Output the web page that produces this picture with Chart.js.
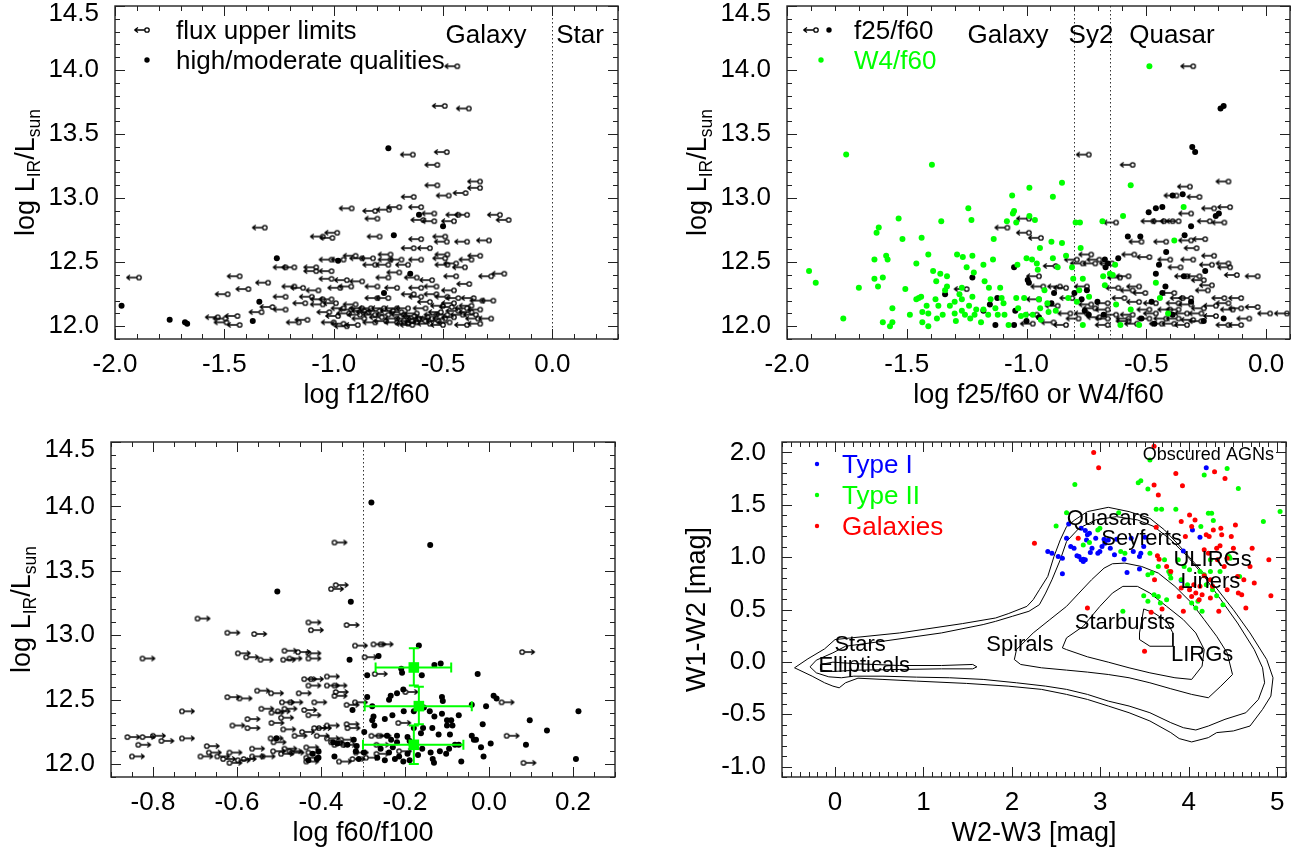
<!DOCTYPE html>
<html>
<head>
<meta charset="utf-8">
<script src="https://cdn.jsdelivr.net/npm/chart.js@4.4.1/dist/chart.umd.min.js"></script>
<style>
  html, body { margin: 0; padding: 0; background: #fff; }
  #wrap { position: relative; width: 1302px; height: 854px; }
  canvas { position: absolute; }
</style>
</head>
<body>
<div id="wrap">
  <canvas id="c1" width="651" height="427" style="left:0;top:0"></canvas>
  <canvas id="c2" width="651" height="427" style="left:651px;top:0"></canvas>
  <canvas id="c3" width="651" height="427" style="left:0;top:427px"></canvas>
  <canvas id="c4" width="651" height="427" style="left:651px;top:427px"></canvas>
</div>
<script>
// ---- panel 1: log f12/f60 vs log LIR ----
const f12Limits = [[-0.435,14.03],[-0.492,13.72],[-0.382,13.70],[-0.638,13.34],[-0.483,13.36],[-0.526,13.26],[-0.526,13.10],[-0.331,13.13],[-0.331,13.08],[-0.474,13.02],[-0.397,13.04],[-0.634,13.01],[-0.60,12.93],[-0.918,12.92],[-0.747,12.91],[-0.70,12.93],[-0.81,12.90],[-0.80,12.84],[-0.54,12.88],[-0.39,12.87],[-0.43,12.87],[-0.24,12.87],[-0.20,12.83],[-0.59,12.83],[-0.54,12.82],[-0.45,12.82],[-1.315,12.77],[-0.984,12.73],[-1.05,12.70],[-1.006,12.69],[-0.79,12.70],[-0.60,12.68],[-0.49,12.70],[-0.483,12.66],[-0.39,12.66],[-0.29,12.67],[-0.74,12.56],[-0.634,12.61],[-0.56,12.61],[-0.48,12.56],[-0.33,12.55],[-0.37,12.52],[-0.49,12.53],[-0.90,12.55],[-0.955,12.52],[-1.01,12.52],[-0.87,12.53],[-0.82,12.53],[-0.74,12.52],[-0.69,12.52],[-0.60,12.52],[-1.18,12.46],[-1.08,12.46],[-1.22,12.46],[-0.81,12.48],[-0.75,12.48],[-0.66,12.48],[-0.44,12.49],[-0.48,12.48],[-0.40,12.46],[-1.08,12.43],[-1.01,12.43],[-0.70,12.42],[-1.43,12.39],[-0.62,12.38],[-0.44,12.39],[-0.28,12.39],[-0.22,12.41],[-0.75,12.38],[-1.01,12.37],[-0.94,12.36],[-0.87,12.35],[-1.89,12.38],[-1.30,12.34],[-0.55,12.36],[-0.38,12.33],[-0.53,12.31],[-1.18,12.31],[-1.14,12.30],[-1.39,12.29],[-0.97,12.30],[-0.92,12.31],[-0.80,12.31],[-0.71,12.30],[-0.60,12.30],[-0.45,12.28],[-1.485,12.25],[-1.07,12.28],[-1.22,12.23],[-1.10,12.23],[-1.01,12.21],[-1.05,12.21],[-0.80,12.22],[-0.75,12.22],[-0.634,12.25],[-0.60,12.23],[-0.53,12.25],[-0.48,12.23],[-0.43,12.22],[-0.36,12.22],[-0.32,12.20],[-0.27,12.20],[-1.13,12.18],[-1.05,12.17],[-0.99,12.18],[-0.90,12.17],[-0.56,12.19],[-0.45,12.18],[-0.37,12.16],[-1.28,12.15],[-1.33,12.11],[-1.22,12.13],[-0.955,12.14],[-0.92,12.13],[-0.87,12.14],[-0.83,12.14],[-0.77,12.14],[-0.71,12.14],[-0.66,12.14],[-0.58,12.14],[-0.50,12.16],[-0.46,12.15],[-0.39,12.14],[-0.33,12.13],[-0.93,12.10],[-0.88,12.09],[-0.81,12.09],[-0.75,12.09],[-0.68,12.09],[-0.62,12.10],[-0.53,12.09],[-0.48,12.09],[-0.41,12.09],[-0.35,12.09],[-1.495,12.06],[-1.44,12.08],[-1.53,12.07],[-1.49,12.03],[-1.43,12.01],[-1.12,12.05],[-1.16,12.03],[-1.00,12.03],[-0.955,12.02],[-0.89,12.01],[-0.81,12.03],[-0.76,12.04],[-0.71,12.06],[-0.66,12.06],[-0.64,12.04],[-0.61,12.06],[-0.58,12.04],[-0.55,12.06],[-0.52,12.04],[-0.49,12.06],[-0.47,12.03],[-0.39,12.01],[-0.33,12.02],[-0.28,12.06],[-0.71,12.03],[-0.64,12.01],[-0.94,12.00],[-0.86,12.12],[-0.84,12.11],[-0.79,12.12],[-0.73,12.12],[-0.69,12.11],[-0.63,12.08],[-0.57,12.07],[-0.51,12.11],[-0.45,12.07],[-0.43,12.12],[-0.37,12.11],[-0.34,12.06],[-0.62,12.03],[-0.56,12.02],[-0.50,12.01],[-0.66,12.02],[-0.86,12.06],[-0.78,12.07],[-0.98,12.08],[-1.02,12.11]];
const f12Dets = [[-1.97,12.16],[-1.75,12.05],[-1.67,12.02],[-1.68,12.03],[-1.37,12.04],[-1.34,12.19],[-1.26,12.53],[-0.98,12.51],[-0.77,12.26],[-0.75,13.39],[-0.725,12.71],[-0.65,12.41],[-0.61,12.87],[-0.50,12.78]];

// ---- panel 2: log f25/f60 (black) and W4/f60 (green) ----
const f25Limits = [[-0.304,14.03],[-0.74,13.34],[-0.557,13.26],[-0.157,13.13],[-0.318,13.09],[-0.278,13.01],[-0.374,13.02],[-0.15,12.93],[-0.217,12.92],[-0.313,12.88],[-0.235,12.82],[-0.174,12.81],[-0.365,12.82],[-0.39,12.82],[-0.426,12.82],[-0.47,12.82],[-0.626,12.81],[-0.99,12.84],[-1.08,12.77],[-0.99,12.73],[-0.94,12.69],[-0.52,12.66],[-0.417,12.66],[-0.313,12.67],[-0.254,12.68],[-0.29,12.61],[-0.217,12.55],[-0.55,12.56],[-0.487,12.54],[-0.40,12.52],[-0.304,12.52],[-0.157,12.49],[-0.73,12.56],[-0.79,12.52],[-0.765,12.49],[-0.696,12.52],[-0.713,12.49],[-0.643,12.49],[-0.226,12.48],[-0.878,12.47],[-0.357,12.46],[-0.15,12.46],[-0.122,12.40],[-0.035,12.39],[-0.33,12.39],[-0.278,12.39],[-0.26,12.36],[-0.226,12.32],[-0.574,12.39],[-0.53,12.31],[-0.948,12.39],[-0.93,12.31],[-0.86,12.31],[-0.835,12.30],[-0.748,12.31],[-0.61,12.38],[-0.617,12.30],[-1.25,12.29],[-0.557,12.28],[-0.504,12.26],[-0.383,12.26],[-0.243,12.28],[-0.104,12.22],[-0.174,12.22],[-0.313,12.22],[-0.348,12.22],[-0.591,12.22],[-0.809,12.22],[-0.948,12.21],[-0.157,12.18],[-0.209,12.16],[-0.313,12.17],[-0.365,12.18],[-0.46,12.18],[-0.53,12.19],[-0.661,12.18],[-0.73,12.17],[-0.87,12.16],[-0.035,12.15],[-0.104,12.14],[-0.139,12.13],[-0.26,12.14],[-0.365,12.13],[-0.40,12.13],[-0.487,12.13],[-0.661,12.13],[-0.713,12.14],[0.017,12.10],[0.087,12.10],[-0.27,12.10],[-0.33,12.10],[-0.46,12.10],[-0.557,12.09],[-0.626,12.09],[-0.748,12.10],[-0.817,12.10],[-0.957,12.09],[-0.07,12.06],[-0.209,12.08],[-0.304,12.05],[-0.365,12.06],[-0.417,12.06],[-0.487,12.06],[-0.574,12.06],[-0.661,12.06],[-0.696,12.07],[-0.783,12.06],[-0.104,12.01],[-0.157,12.01],[-0.27,12.04],[-0.33,12.01],[-0.383,12.02],[-0.435,12.02],[-0.539,12.02],[-0.661,12.01],[-0.835,12.01],[-0.887,12.03],[-0.974,12.02],[-0.574,12.04]];
const f25Dets = [[-1.052,12.46],[-0.995,12.36],[-0.99,12.34],[-1.13,12.01],[-1.052,12.01],[-1.18,12.12],[-1.34,12.25],[-1.226,12.38],[-1.153,12.17],[-1.122,12.22],[-1.047,12.12],[-1.0,12.04],[-0.948,12.07],[-0.885,12.26],[-0.896,12.18],[-0.80,12.26],[-0.77,12.21],[-0.757,12.12],[-0.704,12.19],[-0.678,12.09],[-0.67,12.46],[-0.617,12.53],[-0.673,12.52],[-0.66,12.49],[-0.577,12.70],[-0.525,12.70],[-0.49,12.89],[-0.46,12.92],[-0.433,12.93],[-0.417,12.58],[-0.39,13.02],[-0.348,13.03],[-0.34,12.71],[-0.313,12.78],[-0.308,13.40],[-0.296,13.36],[-0.19,13.70],[-0.177,13.72],[-0.21,12.86],[-0.197,12.88],[-0.254,12.43],[-0.343,12.39],[-0.46,12.41],[-0.447,12.48],[-0.42,12.31],[-0.433,12.26],[-0.478,12.19],[-0.52,12.06],[-0.466,12.02],[-0.39,12.09],[-0.313,12.19],[-0.26,12.04],[-0.177,12.06],[-0.74,12.09],[-0.748,12.28]];
const w4Pts = [[-1.908,12.43],[-1.88,12.34],[-1.753,13.34],[-1.765,12.06],[-1.70,12.30],[-1.635,12.52],[-1.626,12.73],[-1.617,12.77],[-1.635,12.37],[-1.62,12.31],[-1.60,12.38],[-1.586,12.55],[-1.58,12.52],[-1.56,12.14],[-1.60,12.03],[-1.57,12.00],[-1.56,12.03],[-1.534,12.84],[-1.518,12.68],[-1.506,12.29],[-1.487,12.09],[-1.46,12.49],[-1.46,12.21],[-1.45,12.22],[-1.44,12.23],[-1.438,12.69],[-1.435,12.11],[-1.435,12.03],[-1.417,12.16],[-1.41,12.00],[-1.41,12.56],[-1.41,12.10],[-1.395,13.26],[-1.39,12.43],[-1.38,12.21],[-1.374,12.06],[-1.368,12.16],[-1.36,12.41],[-1.356,12.82],[-1.35,12.09],[-1.377,12.35],[-1.332,12.39],[-1.332,12.31],[-1.34,12.28],[-1.32,12.16],[-1.30,12.19],[-1.30,12.10],[-1.295,12.04],[-1.29,12.56],[-1.28,12.25],[-1.27,12.12],[-1.27,12.21],[-1.266,12.54],[-1.27,12.30],[-1.257,12.09],[-1.25,12.46],[-1.243,12.92],[-1.23,12.83],[-1.226,12.55],[-1.226,12.23],[-1.24,12.16],[-1.235,12.06],[-1.22,12.42],[-1.217,12.09],[-1.21,12.13],[-1.19,12.03],[-1.18,12.48],[-1.18,12.13],[-1.175,12.35],[-1.16,12.09],[-1.157,12.30],[-1.15,12.21],[-1.137,12.68],[-1.14,12.52],[-1.13,12.14],[-1.12,12.09],[-1.11,12.30],[-1.104,12.22],[-1.096,12.18],[-1.092,12.09],[-1.082,12.82],[-1.075,12.01],[-1.06,13.02],[-1.057,12.88],[-1.052,12.90],[-1.043,12.81],[-1.043,12.22],[-1.038,12.48],[-1.035,12.14],[-1.023,12.08],[-1.01,12.22],[-1.003,12.09],[-1.0,12.53],[-0.988,13.08],[-0.988,12.86],[-0.977,12.52],[-0.974,12.09],[-0.965,12.83],[-0.957,12.49],[-0.953,12.44],[-0.944,12.61],[-0.948,12.21],[-0.943,12.14],[-0.94,12.05],[-0.925,12.28],[-0.913,12.18],[-0.908,12.11],[-0.896,12.66],[-0.89,12.53],[-0.89,13.01],[-0.878,12.12],[-0.87,12.46],[-0.852,13.12],[-0.852,12.65],[-0.835,12.55],[-0.826,12.22],[-0.81,12.46],[-0.805,12.37],[-0.795,12.81],[-0.777,12.81],[-0.774,12.61],[-0.765,12.37],[-0.78,12.28],[-0.79,12.19],[-0.765,12.01],[-0.739,12.23],[-0.683,12.82],[-0.68,12.39],[-0.673,12.32],[-0.652,12.41],[-0.64,12.40],[-0.63,12.48],[-0.626,12.17],[-0.608,12.01],[-0.597,12.86],[-0.565,13.10],[-0.565,12.13],[-0.53,12.01],[-0.487,14.03],[-0.46,12.34],[-0.443,12.22],[-0.409,12.10],[-0.383,12.67],[-0.344,12.93]];

// ---- panel 3: log f60/f100 ----
const f60Limits = [[-0.368,13.72],[-0.376,13.36],[-0.365,13.39],[-0.694,13.13],[-0.623,13.02],[-0.559,13.01],[-0.43,13.10],[-0.424,13.04],[-0.339,13.08],[-0.319,12.92],[-0.275,12.93],[-0.258,12.93],[-0.825,12.82],[-0.598,12.86],[-0.578,12.83],[-0.544,12.81],[-0.487,12.88],[-0.49,12.81],[-0.475,12.82],[-0.455,12.87],[-0.43,12.86],[-0.43,12.82],[-0.296,12.83],[-0.272,12.70],[-0.44,12.66],[-0.424,12.66],[-0.43,12.61],[-0.386,12.68],[-0.386,12.61],[-0.368,12.61],[-0.365,12.56],[-0.552,12.57],[-0.519,12.55],[-0.453,12.55],[-0.623,12.52],[-0.594,12.51],[-0.416,12.48],[-0.493,12.48],[-0.473,12.48],[-0.368,12.53],[-0.339,12.46],[-0.319,12.48],[-0.199,12.56],[0.03,12.48],[-0.731,12.41],[-0.542,12.43],[-0.518,12.40],[-0.503,12.41],[-0.487,12.43],[-0.44,12.42],[-0.43,12.38],[-0.495,12.36],[-0.575,12.35],[-0.518,12.32],[-0.611,12.30],[-0.575,12.28],[-0.49,12.27],[-0.416,12.28],[-0.405,12.28],[-0.386,12.30],[-0.339,12.31],[-0.337,12.28],[-0.216,12.32],[-0.861,12.21],[-0.825,12.21],[-0.80,12.22],[-0.78,12.18],[-0.835,12.15],[-0.731,12.20],[-0.52,12.20],[-0.513,12.17],[-0.463,12.22],[-0.445,12.25],[-0.41,12.22],[-0.386,12.20],[-0.376,12.17],[-0.352,12.19],[-0.28,12.22],[-0.263,12.22],[0.042,12.22],[-0.672,12.14],[-0.564,12.12],[-0.514,12.10],[-0.487,12.12],[-0.475,12.10],[-0.435,12.13],[-0.43,12.09],[-0.368,12.15],[-0.347,12.15],[-0.317,12.09],[-0.268,12.15],[-0.268,12.08],[-0.85,12.06],[-0.687,12.06],[-0.667,12.09],[-0.647,12.06],[-0.633,12.04],[-0.618,12.01],[-0.598,12.03],[-0.584,12.04],[-0.564,12.06],[-0.539,12.06],[-0.495,12.08],[-0.47,12.09],[-0.435,12.05],[-0.435,12.02],[-0.357,12.02],[-0.325,12.04],[-0.293,12.05],[-0.214,12.10],[0.082,12.01],[0.079,12.87],[-0.618,12.09]];
const f60Dets = [[-0.28,14.03],[-0.14,13.70],[-0.504,13.34],[-0.329,13.26],[-0.332,12.81],[-0.29,12.69],[-0.263,12.84],[-0.167,12.92],[-0.13,12.77],[-0.115,12.78],[-0.209,12.74],[-0.207,12.71],[-0.027,12.70],[-0.16,12.69],[-0.219,12.55],[-0.204,12.58],[-0.234,12.53],[-0.238,12.50],[-0.112,12.52],[-0.11,12.49],[0.011,12.53],[0.018,12.51],[-0.007,12.45],[-0.041,12.46],[-0.29,12.52],[-0.278,12.45],[-0.325,12.42],[-0.275,12.37],[-0.278,12.34],[-0.273,12.30],[-0.297,12.25],[-0.248,12.35],[-0.23,12.38],[-0.203,12.41],[-0.179,12.41],[-0.155,12.44],[-0.141,12.41],[-0.13,12.37],[-0.112,12.39],[-0.10,12.34],[-0.09,12.34],[-0.072,12.38],[-0.087,12.30],[-0.10,12.30],[-0.015,12.31],[0.097,12.34],[0.138,12.26],[0.213,12.41],[-0.157,12.28],[-0.135,12.28],[-0.162,12.24],[-0.12,12.23],[-0.093,12.23],[-0.041,12.22],[-0.036,12.19],[-0.031,12.19],[0.004,12.16],[-0.019,12.13],[0.088,12.15],[-0.013,12.06],[0.207,12.04],[-0.243,12.22],[-0.233,12.19],[-0.219,12.22],[-0.219,12.17],[-0.194,12.21],[-0.189,12.18],[-0.229,12.13],[-0.238,12.09],[-0.258,12.12],[-0.266,12.05],[-0.248,12.03],[-0.224,12.04],[-0.204,12.02],[-0.214,12.06],[-0.194,12.08],[-0.189,12.03],[-0.169,12.07],[-0.159,12.12],[-0.139,12.09],[-0.134,12.04],[-0.131,12.01],[-0.117,12.10],[-0.102,12.08],[-0.095,12.12],[-0.081,12.15],[-0.066,12.02],[-0.298,12.09],[-0.31,12.04],[-0.317,12.10],[-0.315,12.14],[-0.322,12.19],[-0.337,12.15],[-0.361,12.16],[-0.371,12.17],[-0.368,12.06],[-0.406,12.05],[-0.406,12.10],[-0.41,12.04],[-0.43,12.03],[-0.42,12.08],[-0.506,12.20],[-0.072,12.15],[-0.179,12.28]];
const binX = [-0.179, -0.167, -0.179];
const binY = [12.75, 12.45, 12.15];
const binXLo = [-0.27, -0.296, -0.30];
const binXHi = [-0.09, -0.041, -0.061];
const binYLo = [12.61, 12.31, 12.0];
const binYHi = [12.90, 12.60, 12.30];

// ---- panel 4: WISE colour-colour ----
const typeI = [[2.406,1.054],[2.453,1.038],[2.524,1.006],[2.571,0.990],[2.571,0.841],[2.618,1.181],[2.642,1.317],[2.665,1.102],[2.703,1.086],[2.736,1.013],[2.759,1.006],[2.783,0.975],[2.807,0.981],[2.807,0.959],[2.830,0.975],[2.783,1.276],[2.830,1.254],[2.854,1.213],[2.877,1.229],[2.844,1.165],[2.887,1.044],[2.906,1.086],[2.948,1.181],[2.972,1.038],[2.995,1.054],[3.019,1.102],[3.042,1.171],[3.052,1.133],[3.090,1.165],[3.113,1.086],[3.160,1.022],[3.184,1.171],[3.269,0.981],[3.302,0.854],[3.349,1.181],[3.373,1.054],[3.443,1.006],[3.443,0.886],[3.458,1.038],[3.491,1.102],[3.505,1.190],[3.939,1.060],[4.042,1.260],[4.127,1.190],[4.198,1.854],[3.915,0.778]];
const typeII = [[2.712,1.695],[2.5,1.298],[2.618,1.425],[2.972,1.260],[2.807,1.117],[2.877,1.140],[3.208,1.425],[3.231,1.054],[3.429,1.711],[3.458,1.730],[3.538,1.651],[3.561,1.927],[3.632,1.457],[3.693,1.457],[3.656,0.911],[3.538,0.832],[3.491,0.632],[3.538,0.578],[3.608,0.641],[3.656,0.625],[3.679,0.562],[3.750,0.594],[3.788,0.838],[3.797,0.800],[3.854,1.457],[3.774,0.863],[3.882,0.975],[3.915,0.784],[3.948,0.911],[3.986,0.737],[4.009,0.879],[4.033,0.562],[4.080,0.514],[4.104,0.578],[4.127,0.863],[4.137,1.292],[4.151,0.483],[4.175,1.784],[4.198,0.737],[4.222,1.419],[4.245,0.863],[4.259,1.419],[4.269,0.689],[4.278,1.349],[4.316,0.632],[4.354,0.863],[4.387,0.546],[4.434,1.848],[4.457,1.006],[4.467,0.990],[4.561,1.657],[4.575,0.816],[4.844,1.340],[5.033,1.435],[4.245,0.975],[4.175,0.832],[3.726,0.975],[3.561,1.038],[3.585,0.848],[3.255,0.483],[2.995,1.276],[3.278,1.038]];
const galaxies = [[2.255,1.133],[2.750,1.181],[2.925,2.0],[2.981,1.854],[2.854,0.514],[3.5,0.102],[3.608,2.060],[3.608,1.689],[3.656,1.594],[3.632,1.286],[3.646,1.013],[3.665,0.981],[3.575,0.473],[3.613,0.784],[3.698,0.505],[3.854,1.800],[3.929,1.683],[3.915,1.340],[3.939,0.483],[3.962,1.197],[3.892,0.625],[3.915,0.705],[4.009,1.403],[4.033,1.292],[4.071,1.356],[4.009,0.689],[4.033,0.625],[4.057,0.737],[4.080,0.657],[4.118,0.594],[4.151,0.641],[4.175,1.070],[4.198,1.213],[4.222,1.038],[4.231,1.197],[4.245,0.610],[4.269,0.721],[4.278,1.260],[4.292,1.816],[4.316,1.086],[4.325,0.975],[4.354,1.108],[4.363,1.276],[4.373,1.213],[4.401,0.911],[4.410,1.752],[4.434,0.689],[4.481,1.197],[4.505,1.086],[4.528,1.308],[4.552,0.816],[4.561,0.657],[4.599,0.641],[4.623,0.784],[4.646,0.514],[4.693,0.911],[4.717,1.086],[4.741,0.752],[4.906,0.975],[4.929,0.632],[4.340,0.483],[4.245,0.784],[3.797,0.863],[3.750,0.911],[4.175,0.822],[4.127,0.721],[4.434,0.990]];
const contourA = [[-0.458,-0.057],[-0.307,0.029],[-0.118,0.124],[0.0,0.213],[0.731,0.276],[1.439,0.365],[1.816,0.419],[1.958,0.460],[2.170,0.530],[2.241,0.594],[2.311,0.689],[2.406,0.816],[2.476,1.006],[2.547,1.165],[2.618,1.292],[2.712,1.356],[2.854,1.435],[3.090,1.476],[3.325,1.435],[3.561,1.371],[3.726,1.260],[3.868,1.133],[4.033,0.975],[4.269,0.752],[4.505,0.498],[4.693,0.276],[4.882,0.022],[4.953,-0.152],[4.929,-0.327],[4.835,-0.454],[4.693,-0.613],[4.505,-0.660],[4.316,-0.676],[4.222,-0.724],[4.033,-0.765],[3.892,-0.733],[3.797,-0.676],[3.561,-0.565],[3.325,-0.486],[3.090,-0.422],[2.854,-0.359],[2.618,-0.311],[2.335,-0.263],[1.958,-0.232],[1.486,-0.206],[0.920,-0.184],[0.542,-0.168],[0.259,-0.156],[0.118,-0.200],[0.047,-0.248],[-0.024,-0.232],[-0.118,-0.200],[-0.259,-0.137],[-0.458,-0.057]];
const contourB = [[-0.283,-0.048],[-0.212,0.016],[-0.024,0.086],[0.118,0.149],[0.542,0.197],[1.203,0.276],[1.675,0.356],[1.816,0.387],[2.005,0.435],[2.193,0.483],[2.311,0.546],[2.382,0.657],[2.453,0.784],[2.547,0.975],[2.618,1.149],[2.759,1.276],[2.948,1.356],[3.184,1.387],[3.420,1.356],[3.608,1.292],[3.797,1.165],[3.986,1.006],[4.175,0.816],[4.363,0.594],[4.552,0.371],[4.741,0.117],[4.835,-0.057],[4.858,-0.200],[4.788,-0.359],[4.646,-0.486],[4.410,-0.549],[4.222,-0.613],[4.080,-0.651],[3.939,-0.629],[3.797,-0.581],[3.561,-0.486],[3.325,-0.422],[3.090,-0.375],[2.854,-0.311],[2.618,-0.263],[2.382,-0.232],[2.052,-0.200],[1.675,-0.168],[1.297,-0.152],[0.920,-0.146],[0.542,-0.137],[0.212,-0.137],[0.071,-0.152],[-0.071,-0.143],[-0.212,-0.105],[-0.283,-0.048]];
const contourC = [[2.028,0.022],[2.052,0.117],[2.241,0.276],[2.429,0.403],[2.618,0.530],[2.759,0.657],[2.901,0.784],[3.042,0.895],[3.137,0.937],[3.278,0.943],[3.467,0.911],[3.656,0.848],[3.844,0.721],[4.033,0.562],[4.175,0.403],[4.316,0.244],[4.434,0.086],[4.495,-0.121],[4.363,-0.232],[4.222,-0.343],[4.033,-0.311],[3.797,-0.257],[3.561,-0.200],[3.325,-0.152],[3.090,-0.121],[2.854,-0.098],[2.618,-0.079],[2.335,-0.057],[2.099,-0.025],[2.028,0.022]];
const contourD = [[2.571,0.133],[2.618,0.229],[2.807,0.340],[2.995,0.530],[3.137,0.657],[3.255,0.721],[3.420,0.721],[3.561,0.657],[3.750,0.530],[3.939,0.403],[4.080,0.276],[4.175,0.117],[4.151,-0.041],[4.033,-0.168],[3.844,-0.152],[3.561,-0.105],[3.325,-0.057],[3.090,-0.003],[2.854,0.048],[2.618,0.117],[2.571,0.133]];
const contourE = [[3.443,0.276],[3.491,0.505],[3.608,0.467],[3.750,0.387],[3.821,0.276],[3.821,0.149],[3.561,0.149],[3.443,0.213],[3.443,0.276]];
const contourF = [[-0.165,-0.025],[-0.024,-0.003],[0.259,-0.019],[0.731,-0.035],[1.203,-0.035],[1.557,-0.025],[1.604,-0.048],[1.557,-0.067],[1.203,-0.067],[0.731,-0.073],[0.259,-0.079],[-0.024,-0.092],[-0.165,-0.079],[-0.165,-0.025]];
const regionLabels = [
  { text: 'Obscured AGNs', x: 4.222, y: 1.975, size: 18 },
  { text: 'Quasars', x: 3.09, y: 1.362, size: 22 },
  { text: 'Seyferts', x: 3.467, y: 1.171, size: 22 },
  { text: 'ULIRGs', x: 4.269, y: 0.975, size: 22 },
  { text: 'Liners', x: 4.245, y: 0.768, size: 22 },
  { text: 'Starbursts', x: 3.278, y: 0.371, size: 22 },
  { text: 'Spirals', x: 2.09, y: 0.165, size: 22 },
  { text: 'LIRGs', x: 4.151, y: 0.07, size: 22 },
  { text: 'Stars', x: 0.283, y: 0.165, size: 22 },
  { text: 'Ellipticals', x: 0.33, y: -0.041, size: 22 }
];

// ---- axes ----
const lirTicks = [12.0, 12.5, 13.0, 13.5, 14.0, 14.5];
const ratioTicks = [-2.0, -1.5, -1.0, -0.5, 0.0];
const f60Ticks = [-0.8, -0.6, -0.4, -0.2, 0.0, 0.2];
const w23Ticks = [0, 1, 2, 3, 4, 5];
const w12Ticks = [-1.0, -0.5, 0.0, 0.5, 1.0, 1.5, 2.0];

const FONT = '"Liberation Sans", Arial, Helvetica, sans-serif';
const BLACK = '#000';
const GREEN = '#00ff00';
const W = 651, H = 427;

function pts(list) { return list.map(p => ({ x: p[0], y: p[1] })); }

function limitSymbol(dir) {
  const c = document.createElement('canvas');
  c.width = 30; c.height = 10;
  const g = c.getContext('2d');
  g.strokeStyle = '#000';
  g.lineWidth = 1.3;
  const cx = 15, cy = 5;
  g.beginPath(); g.arc(cx, cy, 2.2, 0, 2 * Math.PI); g.stroke();
  const tip = cx + dir * 12.5, start = cx + dir * 2.3;
  g.beginPath();
  g.moveTo(start, cy); g.lineTo(tip, cy);
  g.moveTo(tip, cy); g.lineTo(tip - dir * 3.5, cy - 2.5);
  g.moveTo(tip, cy); g.lineTo(tip - dir * 3.5, cy + 2.5);
  g.stroke();
  return c;
}
const leftLimit = limitSymbol(-1);
const rightLimit = limitSymbol(1);

function minorList(min, max, step) {
  const out = [];
  const n0 = Math.ceil(min / step - 1e-6), n1 = Math.floor(max / step + 1e-6);
  for (let n = n0; n <= n1; n++) out.push(n * step);
  return out;
}

function font(size) { return size + 'px ' + FONT; }

const decoPlugin = {
  id: 'deco',
  beforeDatasetsDraw(chart, args, o) {
    const { ctx, chartArea: a, scales: { x } } = chart;
    (o.vlines || []).forEach(v => {
      const px = Math.round(x.getPixelForValue(v)) + 0.5;
      ctx.save();
      ctx.strokeStyle = '#333';
      ctx.lineWidth = 1;
      ctx.setLineDash([1.5, 2.5]);
      ctx.beginPath(); ctx.moveTo(px, a.top); ctx.lineTo(px, a.bottom); ctx.stroke();
      ctx.restore();
    });
  },
  afterDatasetsDraw(chart, args, o) {
    const { ctx, scales: { x, y } } = chart;
    if (o.bars) {
      ctx.save();
      ctx.strokeStyle = GREEN;
      ctx.lineWidth = 2;
      o.bars.x.forEach((bx, i) => {
        const px = x.getPixelForValue(bx), py = y.getPixelForValue(o.bars.y[i]);
        const x0 = x.getPixelForValue(o.bars.xlo[i]), x1 = x.getPixelForValue(o.bars.xhi[i]);
        const y0 = y.getPixelForValue(o.bars.ylo[i]), y1 = y.getPixelForValue(o.bars.yhi[i]);
        const c = 5;
        ctx.beginPath();
        ctx.moveTo(x0, py); ctx.lineTo(x1, py);
        ctx.moveTo(x0, py - c); ctx.lineTo(x0, py + c);
        ctx.moveTo(x1, py - c); ctx.lineTo(x1, py + c);
        ctx.moveTo(px, y0); ctx.lineTo(px, y1);
        ctx.moveTo(px - c, y0); ctx.lineTo(px + c, y0);
        ctx.moveTo(px - c, y1); ctx.lineTo(px + c, y1);
        ctx.stroke();
      });
      ctx.restore();
    }
    (o.labels || []).forEach(l => {
      ctx.save();
      ctx.font = font(l.size);
      ctx.fillStyle = BLACK;
      ctx.textAlign = 'center';
      ctx.textBaseline = 'middle';
      ctx.fillText(l.text, x.getPixelForValue(l.x), y.getPixelForValue(l.y));
      ctx.restore();
    });
  },
  afterDraw(chart, args, o) {
    const { ctx, chartArea: a, scales: { x, y } } = chart;
    ctx.save();
    // frame
    ctx.strokeStyle = '#222';
    ctx.lineWidth = 1.4;
    ctx.strokeRect(a.left, a.top, a.right - a.left, a.bottom - a.top);
    // ticks on all four sides, pointing inwards
    ctx.lineWidth = 1;
    ctx.beginPath();
    const xt = (vals, len) => vals.forEach(v => {
      const p = Math.round(x.getPixelForValue(v)) + 0.5;
      ctx.moveTo(p, a.bottom); ctx.lineTo(p, a.bottom - len);
      ctx.moveTo(p, a.top); ctx.lineTo(p, a.top + len);
    });
    const yt = (vals, len) => vals.forEach(v => {
      const p = Math.round(y.getPixelForValue(v)) + 0.5;
      ctx.moveTo(a.left, p); ctx.lineTo(a.left + len, p);
      ctx.moveTo(a.right, p); ctx.lineTo(a.right - len, p);
    });
    xt(minorList(x.min, x.max, o.xMinor), 5);
    xt(o.xMajor, 10);
    yt(minorList(y.min, y.max, o.yMinor), 5);
    yt(o.yMajor, 10);
    ctx.stroke();

    // axis titles
    ctx.fillStyle = BLACK;
    ctx.font = font(27);
    ctx.textAlign = 'center';
    ctx.textBaseline = 'alphabetic';
    ctx.fillText(o.xTitle, (a.left + a.right) / 2, a.bottom + 64);
    // rotated y title, with optional subscripts
    const parts = o.yTitle;
    ctx.save();
    ctx.translate(a.left - 81 + (o.yTitleShift || 0), (a.top + a.bottom) / 2);
    ctx.rotate(-Math.PI / 2);
    let total = 0;
    parts.forEach(p => { ctx.font = font(p.sub ? 17.5 : 27); total += ctx.measureText(p.t).width; });
    let cx = -total / 2;
    ctx.textAlign = 'left';
    parts.forEach(p => {
      ctx.font = font(p.sub ? 17.5 : 27);
      ctx.fillText(p.t, cx, p.sub ? 6 : 0);
      cx += ctx.measureText(p.t).width;
    });
    ctx.restore();

    // free texts (pixel positions inside the panel) and legend entries
    (o.texts || []).forEach(t => {
      ctx.font = font(t.size || 26);
      ctx.fillStyle = t.color || BLACK;
      ctx.textAlign = t.align || 'left';
      ctx.textBaseline = 'alphabetic';
      ctx.fillText(t.text, t.x, t.y);
    });
    (o.symbols || []).forEach(s => {
      if (s.type === 'dot') {
        ctx.fillStyle = s.color;
        ctx.beginPath(); ctx.arc(s.x, s.y, s.r, 0, 2 * Math.PI); ctx.fill();
      } else {
        const img = s.type === 'left' ? leftLimit : rightLimit;
        ctx.drawImage(img, s.x - img.width / 2, s.y - img.height / 2);
      }
    });
    ctx.restore();
  }
};

function makeChart(id, frame, xs, ys, datasets, deco) {
  // scale boxes are made wide enough that Chart.js does not clip the tick labels
  const yW = frame.l - 4, xH = H - frame.b - 4;
  return new Chart(document.getElementById(id), {
    type: 'scatter',
    data: { datasets },
    options: {
      responsive: false,
      animation: false,
      devicePixelRatio: 1,
      layout: { padding: { left: frame.l - yW, top: frame.t, right: W - frame.r, bottom: H - frame.b - xH } },
      plugins: {
        legend: { display: false },
        tooltip: { enabled: false },
        deco: Object.assign({ xMajor: xs.major, yMajor: ys.major, xMinor: xs.minor, yMinor: ys.minor }, deco)
      },
      scales: {
        x: {
          type: 'linear', min: xs.min, max: xs.max,
          grid: { display: false }, border: { display: false },
          afterFit(s) { s.height = xH; s.paddingLeft = 0; s.paddingRight = 0; },
          afterBuildTicks(s) { s.ticks = xs.major.map(v => ({ value: v })); },
          ticks: { font: { family: FONT, size: 26 }, color: BLACK, padding: 2, maxRotation: 0, autoSkip: false, callback: xs.fmt }
        },
        y: {
          type: 'linear', min: ys.min, max: ys.max,
          grid: { display: false }, border: { display: false },
          afterFit(s) { s.width = yW; s.paddingTop = 0; s.paddingBottom = 0; },
          afterBuildTicks(s) { s.ticks = ys.major.map(v => ({ value: v })); },
          // the label sitting on the top edge is pushed down inside, as in the original plot
          ticks: { font: { family: FONT, size: 26, lineHeight: 0.62 }, color: BLACK, padding: 8, autoSkip: false,
                   callback: v => (v === ys.max ? ['', ys.fmt(v)] : ys.fmt(v)) }
        }
      }
    },
    plugins: [decoPlugin]
  });
}

const f1 = v => v.toFixed(1);
const f0 = v => String(v);
const lirAxis = { min: 11.9, max: 14.5, major: lirTicks, minor: 0.1, fmt: f1 };
const lirTitle = [{ t: 'log L' }, { t: 'IR', sub: true }, { t: '/L' }, { t: 'sun', sub: true }];

function limitSet(list, img) {
  return { data: pts(list), pointStyle: img, pointRadius: 5, pointHoverRadius: 5 };
}
function dotSet(list, color, r, order) {
  return { data: pts(list), pointStyle: 'circle', pointRadius: r, pointBorderWidth: 0,
           backgroundColor: color, borderColor: color, order: order };
}
function lineSet(list) {
  return { data: pts(list), showLine: true, pointRadius: 0, borderColor: BLACK, borderWidth: 1,
           tension: 0, fill: false, order: 10 };
}

// panel 1
makeChart('c1', { l: 115, t: 4, r: 618, b: 339 },
  { min: -2.0, max: 0.3, major: ratioTicks, minor: 0.1, fmt: f1 }, lirAxis,
  [Object.assign(limitSet(f12Limits, leftLimit), { order: 2 }), dotSet(f12Dets, BLACK, 3, 1)],
  {
    vlines: [0.0],
    xTitle: 'log f12/f60', yTitle: lirTitle,
    texts: [
      { text: 'flux upper limits', x: 176, y: 39 },
      { text: 'high/moderate qualities', x: 176, y: 69 },
      { text: 'Galaxy', x: 486, y: 43, align: 'center' },
      { text: 'Star', x: 580, y: 43, align: 'center' }
    ],
    symbols: [
      { type: 'left', x: 147, y: 30 },
      { type: 'dot', x: 147, y: 60, r: 2.7, color: BLACK }
    ]
  });

// panel 2
makeChart('c2', { l: 136, t: 4, r: 639, b: 339 },
  { min: -2.0, max: 0.1, major: ratioTicks, minor: 0.1, fmt: f1 }, lirAxis,
  [Object.assign(limitSet(f25Limits, leftLimit), { order: 3 }), dotSet(f25Dets, BLACK, 3, 2), dotSet(w4Pts, GREEN, 3, 1)],
  {
    vlines: [-0.8, -0.65],
    xTitle: 'log f25/f60 or W4/f60', yTitle: lirTitle,
    texts: [
      { text: 'f25/f60', x: 203, y: 39 },
      { text: 'W4/f60', x: 203, y: 69, color: GREEN },
      { text: 'Galaxy', x: 357, y: 43, align: 'center' },
      { text: 'Sy2', x: 440, y: 43, align: 'center' },
      { text: 'Quasar', x: 521, y: 43, align: 'center' }
    ],
    symbols: [
      { type: 'left', x: 165, y: 30 },
      { type: 'dot', x: 178, y: 30, r: 2.7, color: BLACK },
      { type: 'dot', x: 170, y: 60, r: 2.7, color: GREEN }
    ]
  });

// panel 3
makeChart('c3', { l: 111, t: 15, r: 615, b: 350 },
  { min: -0.9, max: 0.3, major: f60Ticks, minor: 0.05, fmt: f1 }, lirAxis,
  [Object.assign(limitSet(f60Limits, rightLimit), { order: 3 }), dotSet(f60Dets, BLACK, 3, 2),
   { data: binX.map((v, i) => ({ x: v, y: binY[i] })), pointStyle: 'rect', pointRadius: 7.5,
     backgroundColor: GREEN, borderColor: GREEN, borderWidth: 0, order: 1 }],
  {
    vlines: [-0.3],
    xTitle: 'log f60/f100', yTitle: lirTitle,
    bars: { x: binX, y: binY, xlo: binXLo, xhi: binXHi, ylo: binYLo, yhi: binYHi }
  });

// panel 4
makeChart('c4', { l: 131, t: 15, r: 635, b: 350 },
  { min: -0.6, max: 5.1, major: w23Ticks, minor: 0.1, fmt: f0 },
  { min: -1.1, max: 2.1, major: w12Ticks, minor: 0.1, fmt: f1 },
  [lineSet(contourA), lineSet(contourB), lineSet(contourC), lineSet(contourD), lineSet(contourE), lineSet(contourF),
   dotSet(typeI, '#0000ff', 2.5, 3), dotSet(typeII, GREEN, 2.5, 2), dotSet(galaxies, '#ff0000', 2.5, 1)],
  {
    xTitle: 'W2-W3 [mag]', yTitle: [{ t: 'W1-W2 [mag]' }], yTitleShift: 4,
    labels: regionLabels,
    texts: [
      { text: 'Type I', x: 191, y: 46, color: '#0000ff' },
      { text: 'Type II', x: 191, y: 77, color: GREEN },
      { text: 'Galaxies', x: 191, y: 108, color: '#ff0000' }
    ],
    symbols: [
      { type: 'dot', x: 166, y: 37, r: 2.2, color: '#0000ff' },
      { type: 'dot', x: 166, y: 68, r: 2.2, color: GREEN },
      { type: 'dot', x: 166, y: 99, r: 2.2, color: '#ff0000' }
    ]
  });
</script>
</body>
</html>
